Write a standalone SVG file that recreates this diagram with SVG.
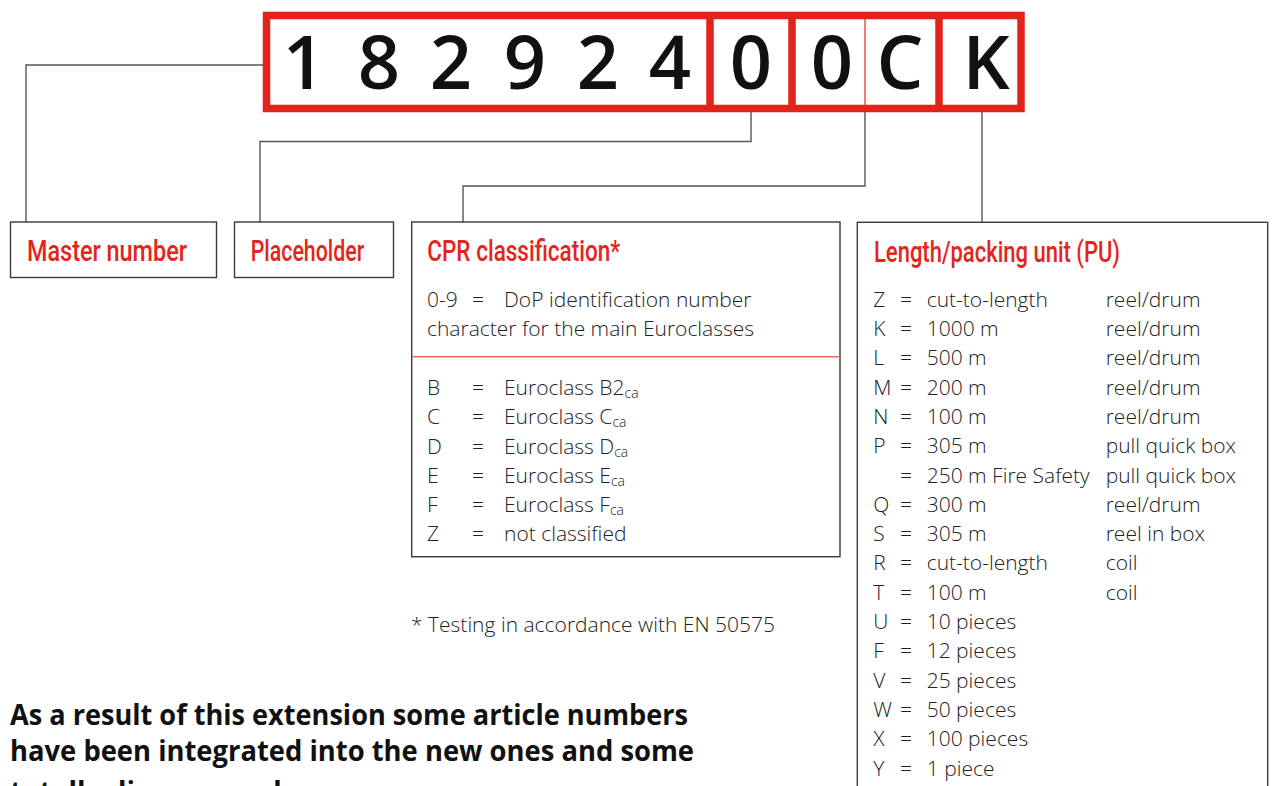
<svg xmlns="http://www.w3.org/2000/svg" width="1272" height="786" viewBox="0 0 1272 786">
<style>
.digit{font-family:"Open Sans","Liberation Sans",sans-serif;font-weight:600;font-size:74px;fill:#111;text-anchor:middle}
.head{font-family:Roboto,"Liberation Sans",sans-serif;font-weight:500;font-size:30px;fill:#e3251b}
.body{font-family:"Open Sans","Liberation Sans",sans-serif;font-weight:300;font-size:21px;fill:#222}
.sub{font-size:14px}
.box{fill:#fff;stroke:#3a3a3a;stroke-width:1.4}
.conn{fill:none;stroke:#555;stroke-width:1.4}
.red{fill:none;stroke:#e2231a}
.bold{font-family:"Open Sans","Liberation Sans",sans-serif;font-weight:700;font-size:28px;fill:#111}
</style>
<rect width="1272" height="786" fill="#fff"/>
<g id="connectors">
<path class="conn" d="M263 65 H26 V222"/>
<path class="conn" d="M751 112 V141.5 H260 V222"/>
<path class="conn" d="M865 112 V186 H463 V222"/>
<path class="conn" d="M982 112 V222"/>
</g>
<g id="article-number">
<rect class="red" x="266.5" y="15.5" width="754.5" height="93" stroke-width="7.5" fill="#fff"/>
<line class="red" x1="710" y1="15" x2="710" y2="109" stroke-width="7.5"/>
<line class="red" x1="792" y1="15" x2="792" y2="109" stroke-width="7.5"/>
<line class="red" x1="865" y1="15" x2="865" y2="109" stroke-width="1.2"/>
<line class="red" x1="939" y1="15" x2="939" y2="109" stroke-width="7.5"/>
<text class="digit" y="89"><tspan x="304">1</tspan><tspan x="379">8</tspan><tspan x="451">2</tspan><tspan x="525">9</tspan><tspan x="598">2</tspan><tspan x="670">4</tspan><tspan x="751">0</tspan><tspan x="832">0</tspan><tspan x="900">C</tspan><tspan x="986">K</tspan></text>
</g>
<g id="master-number">
<rect class="box" x="10.5" y="222" width="206" height="55.5"/>
<text class="head" x="27" y="260.7" textLength="160" lengthAdjust="spacingAndGlyphs">Master number</text>
</g>
<g id="placeholder">
<rect class="box" x="234.5" y="222" width="159" height="55.5"/>
<text class="head" x="250.7" y="260.7" textLength="113.6" lengthAdjust="spacingAndGlyphs">Placeholder</text>
</g>
<g id="cpr-classification">
<rect class="box" x="411.7" y="222" width="428.3" height="334.7"/>
<line x1="412.4" y1="356.7" x2="839.3" y2="356.7" stroke="#ea6a5a" stroke-width="1.4"/>
<text class="head" x="427.3" y="260.7" textLength="193" lengthAdjust="spacingAndGlyphs">CPR classification*</text>
<text class="body" y="306.7"><tspan x="427">0-9</tspan><tspan x="472">=</tspan><tspan x="504">DoP identification number</tspan></text>
<text class="body" x="427" y="336">character for the main Euroclasses</text>
<text class="body" y="395"><tspan x="427">B</tspan><tspan x="472">=</tspan><tspan x="504">Euroclass B2</tspan><tspan class="sub" dy="3">ca</tspan></text>
<text class="body" y="424.3"><tspan x="427">C</tspan><tspan x="472">=</tspan><tspan x="504">Euroclass C</tspan><tspan class="sub" dy="3">ca</tspan></text>
<text class="body" y="453.5"><tspan x="427">D</tspan><tspan x="472">=</tspan><tspan x="504">Euroclass D</tspan><tspan class="sub" dy="3">ca</tspan></text>
<text class="body" y="482.8"><tspan x="427">E</tspan><tspan x="472">=</tspan><tspan x="504">Euroclass E</tspan><tspan class="sub" dy="3">ca</tspan></text>
<text class="body" y="512"><tspan x="427">F</tspan><tspan x="472">=</tspan><tspan x="504">Euroclass F</tspan><tspan class="sub" dy="3">ca</tspan></text>
<text class="body" y="541"><tspan x="427">Z</tspan><tspan x="472">=</tspan><tspan x="504">not classified</tspan></text>
</g>
<g id="footnote">
<text class="body" x="411" y="632">* Testing in accordance with EN 50575</text>
</g>
<g id="length-packing-unit">
<rect class="box" x="857.3" y="222.3" width="410.4" height="600"/>
<text class="head" x="874" y="261.7" textLength="246" lengthAdjust="spacingAndGlyphs">Length/packing unit (PU)</text>
<text class="body" y="306.7"><tspan x="873.3">Z</tspan><tspan x="900">=</tspan><tspan x="926.7">cut-to-length</tspan><tspan x="1105.7">reel/drum</tspan></text>
<text class="body" y="336"><tspan x="873.3">K</tspan><tspan x="900">=</tspan><tspan x="926.7">1000 m</tspan><tspan x="1105.7">reel/drum</tspan></text>
<text class="body" y="365.3"><tspan x="873.3">L</tspan><tspan x="900">=</tspan><tspan x="926.7">500 m</tspan><tspan x="1105.7">reel/drum</tspan></text>
<text class="body" y="394.6"><tspan x="873.3">M</tspan><tspan x="900">=</tspan><tspan x="926.7">200 m</tspan><tspan x="1105.7">reel/drum</tspan></text>
<text class="body" y="423.9"><tspan x="873.3">N</tspan><tspan x="900">=</tspan><tspan x="926.7">100 m</tspan><tspan x="1105.7">reel/drum</tspan></text>
<text class="body" y="453.2"><tspan x="873.3">P</tspan><tspan x="900">=</tspan><tspan x="926.7">305 m</tspan><tspan x="1105.7">pull quick box</tspan></text>
<text class="body" y="482.5"><tspan x="900">=</tspan><tspan x="926.7">250 m Fire Safety</tspan><tspan x="1105.7">pull quick box</tspan></text>
<text class="body" y="511.8"><tspan x="873.3">Q</tspan><tspan x="900">=</tspan><tspan x="926.7">300 m</tspan><tspan x="1105.7">reel/drum</tspan></text>
<text class="body" y="541.1"><tspan x="873.3">S</tspan><tspan x="900">=</tspan><tspan x="926.7">305 m</tspan><tspan x="1105.7">reel in box</tspan></text>
<text class="body" y="570.4"><tspan x="873.3">R</tspan><tspan x="900">=</tspan><tspan x="926.7">cut-to-length</tspan><tspan x="1105.7">coil</tspan></text>
<text class="body" y="599.7"><tspan x="873.3">T</tspan><tspan x="900">=</tspan><tspan x="926.7">100 m</tspan><tspan x="1105.7">coil</tspan></text>
<text class="body" y="629"><tspan x="873.3">U</tspan><tspan x="900">=</tspan><tspan x="926.7">10 pieces</tspan></text>
<text class="body" y="658.3"><tspan x="873.3">F</tspan><tspan x="900">=</tspan><tspan x="926.7">12 pieces</tspan></text>
<text class="body" y="687.6"><tspan x="873.3">V</tspan><tspan x="900">=</tspan><tspan x="926.7">25 pieces</tspan></text>
<text class="body" y="716.9"><tspan x="873.3">W</tspan><tspan x="900">=</tspan><tspan x="926.7">50 pieces</tspan></text>
<text class="body" y="746.2"><tspan x="873.3">X</tspan><tspan x="900">=</tspan><tspan x="926.7">100 pieces</tspan></text>
<text class="body" y="775.5"><tspan x="873.3">Y</tspan><tspan x="900">=</tspan><tspan x="926.7">1 piece</tspan></text>
</g>
<g id="note">
<text class="bold" x="10" y="725" textLength="678" lengthAdjust="spacingAndGlyphs">As a result of this extension some article numbers</text>
<text class="bold" x="10" y="761" textLength="684" lengthAdjust="spacingAndGlyphs">have been integrated into the new ones and some</text>
<text class="bold" x="10" y="802">totally disappeared.</text>
</g>
</svg>
